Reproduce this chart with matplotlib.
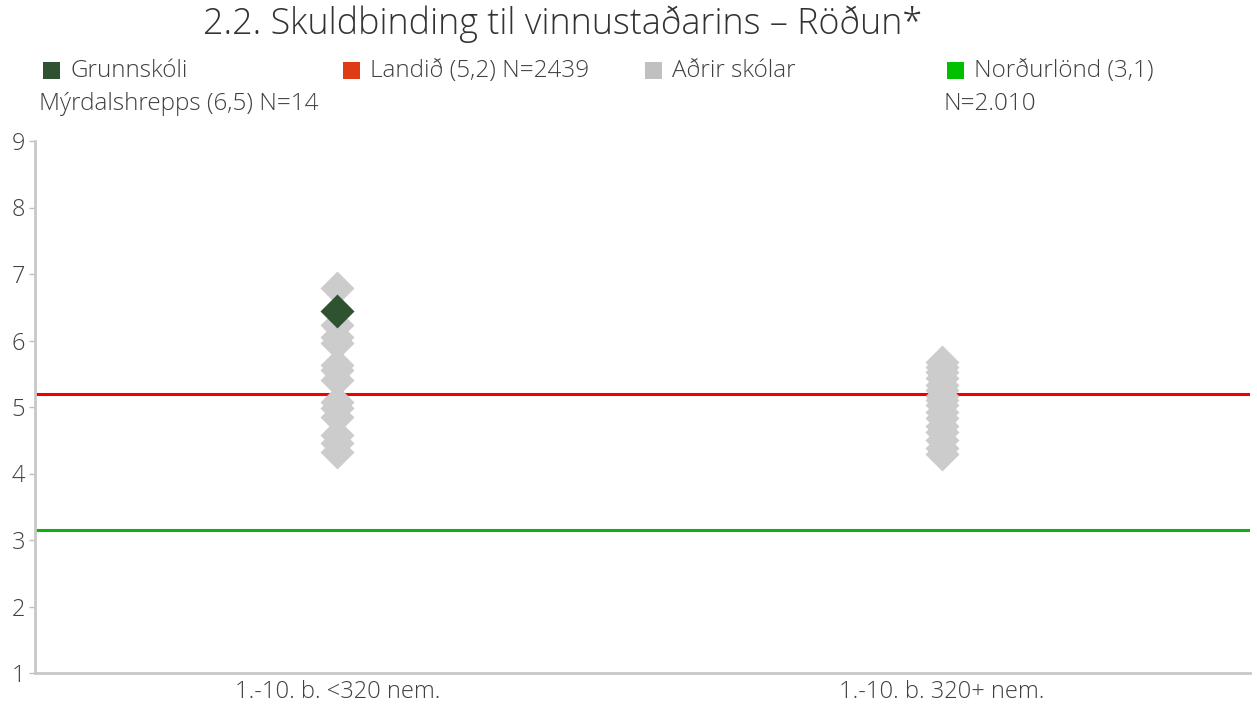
import matplotlib
matplotlib.use("Agg")
import matplotlib.pyplot as plt
from matplotlib.patches import Rectangle

plt.rcParams['font.family'] = ['Open Sans', 'DejaVu Sans']

categories = ["1.-10. b. <320 nem.", "1.-10. b. 320+ nem."]
others_g1 = [6.79, 6.23, 6.06, 5.96, 5.63, 5.56, 5.41, 5.08, 4.98, 4.85, 4.58, 4.46, 4.33]
others_g2 = [5.68, 5.60, 5.52, 5.43, 5.33, 5.25, 5.17, 5.10, 5.03, 4.93, 4.83, 4.72,
             4.62, 4.50, 4.38, 4.30]
school_value = 6.45
landid_value = 5.2
nordurlond_value = 3.15
yticks = [1, 2, 3, 4, 5, 6, 7, 8, 9]

title = "2.2. Skuldbinding til vinnustaðarins – Röðun*"
legend_items = [
    ("Grunnskóli\nMýrdalshrepps (6,5) N=14", "#2F5230"),
    ("Landið (5,2) N=2439", "#E03C14"),
    ("Aðrir skólar", "#C0C0C0"),
    ("Norðurlönd (3,1)\nN=2.010", "#00C000"),
]

W, H = 1257, 704
fig = plt.figure(figsize=(W / 100, H / 100), dpi=100)
ax = fig.add_axes([35 / W, 1 - 673 / H, (1250 - 35) / W, (673 - 141) / H])

ax.axhline(landid_value, color="#F00000", lw=2.2, zorder=2)
ax.axhline(nordurlond_value, color="#10B010", lw=2.2, zorder=2)

ax.plot([0] * len(others_g1), others_g1, "D", ms=17.5, color="#CCCCCC", mec="none", zorder=3)
ax.plot([1] * len(others_g2), others_g2, "D", ms=17.5, color="#CCCCCC", mec="none", zorder=3)
ax.plot([0], [school_value], "D", ms=17.5, color="#2F5230", mec="none", zorder=4)

ax.set_xlim(-0.5, 1.51)
ax.set_ylim(1, 9)
ax.set_yticks(yticks)
ax.set_yticklabels([str(t) for t in yticks], fontsize=17, color="#404040", fontweight="light")
ax.set_xticks([0, 1])
ax.set_xticklabels(categories, fontsize=17, color="#404040", fontweight="light")
ax.tick_params(axis="x", length=0, pad=5)
ax.tick_params(axis="y", length=4, width=1, color="#C0C0C0", pad=3)
for s in ["top", "right"]:
    ax.spines[s].set_visible(False)
for s in ["left", "bottom"]:
    ax.spines[s].set_color("#C8C8C8")
    ax.spines[s].set_linewidth(2)

fig.text(203 / W, 1 - 24 / H, title, fontsize=25.8, color="#333333", va="center", ha="left",
         fontweight="light")

leg_x = [43, 343, 645, 947]
for (lab, col), x in zip(legend_items, leg_x):
    fig.patches.append(Rectangle((x / W, 1 - 79 / H), 17 / W, 17 / H, transform=fig.transFigure,
                                 facecolor=col, edgecolor="none"))
    first, *rest = lab.split("\n")
    fig.text((x + 27) / W, 1 - 71 / H, first, fontsize=17.5, color="#404040", va="center",
             ha="left", fontweight="light")
    if rest:
        fig.text((x - 4) / W, 1 - 104 / H, rest[0], fontsize=17.5, color="#404040", va="center",
                 ha="left", fontweight="light")

fig.savefig("out.png", dpi=100)
